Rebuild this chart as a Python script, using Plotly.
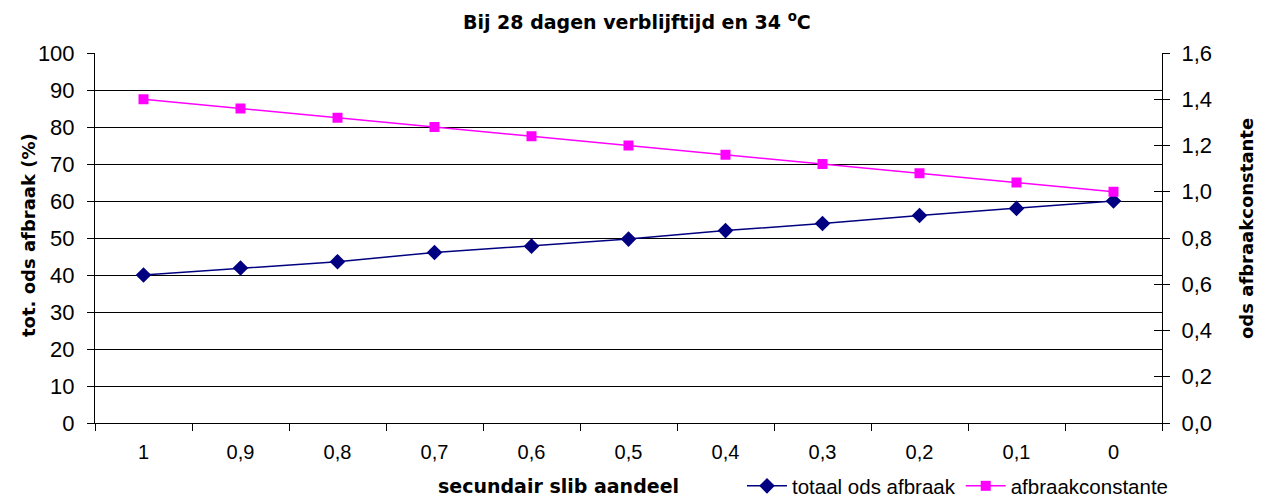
import plotly.graph_objects as go

categories = ["1", "0,9", "0,8", "0,7", "0,6", "0,5", "0,4", "0,3", "0,2", "0,1", "0"]
totaal_ods_afbraak = [40.0, 41.9, 43.6, 46.1, 47.8, 49.7, 52.0, 53.9, 56.1, 58.0, 60.0]
afbraakconstante = [1.40, 1.36, 1.32, 1.28, 1.24, 1.20, 1.16, 1.12, 1.08, 1.04, 1.00]

FONT = "Liberation Sans, Arial, sans-serif"
BOLD = "DejaVu Sans, Liberation Sans, sans-serif"
L, R, T, B = 95, 1162, 53, 423
PW, PH = R - L, B - T


def px_x(px):
    return (px - L) / PW


def px_y(py):
    return (B - py) / PH


fig = go.Figure()
fig.add_trace(go.Scatter(
    x=categories, y=totaal_ods_afbraak, name="totaal ods afbraak",
    mode="lines+markers", yaxis="y",
    line=dict(color="#000080", width=1.5),
    marker=dict(symbol="diamond", size=12, color="#000080"),
))
fig.add_trace(go.Scatter(
    x=categories, y=afbraakconstante, name="afbraakconstante",
    mode="lines+markers", yaxis="y2",
    line=dict(color="#FF00FF", width=1.5),
    marker=dict(symbol="square", size=10, color="#FF00FF"),
))
# invisible trace to activate yaxis3 (inner half of crossing ticks)
fig.add_trace(go.Scatter(x=[categories[0]], y=[0], yaxis="y3", mode="markers",
                         marker=dict(opacity=0), showlegend=False, hoverinfo="skip"))

fig.update_layout(
    width=1265, height=499,
    margin=dict(l=L, r=1265 - R, t=T, b=499 - B, autoexpand=False),
    paper_bgcolor="white", plot_bgcolor="white",
    font=dict(family=FONT, color="black", size=18),
    separators=",.",
    showlegend=True,
    legend=dict(orientation="h", xref="container", x=742 / 1265, xanchor="left",
                yref="container", y=1 - 486 / 499, yanchor="middle",
                font=dict(size=20.5), bgcolor="rgba(0,0,0,0)", itemwidth=40,
                tracegroupgap=0, borderwidth=0),
    xaxis=dict(
        type="category", range=[-0.5, len(categories) - 0.5], autorange=False,
        showline=True, linecolor="black", linewidth=1,
        ticks="outside", ticklen=7, tickcolor="black", tickson="boundaries",
        showgrid=False, tickfont=dict(size=20), ticklabelstandoff=11, automargin=False,
    ),
    yaxis=dict(
        range=[0, 100], dtick=10, showline=True, linecolor="black", linewidth=1,
        ticks="outside", ticklen=7, tickcolor="black",
        showgrid=True, gridcolor="black", gridwidth=1,
        tickfont=dict(size=22), ticklabelstandoff=8, zeroline=False, automargin=False,
    ),
    yaxis2=dict(
        range=[0, 1.6], dtick=0.2, tickformat=".1f", overlaying="y", side="right",
        showline=True, linecolor="black", linewidth=1,
        ticks="outside", ticklen=7, tickcolor="black", showgrid=False,
        tickfont=dict(size=22), ticklabelstandoff=7, zeroline=False, automargin=False,
    ),
    yaxis3=dict(
        range=[0, 1.6], dtick=0.2, overlaying="y", side="right",
        ticks="inside", ticklen=8, tickcolor="black", showgrid=False,
        showticklabels=False, showline=False, zeroline=False, automargin=False,
    ),
    annotations=[
        dict(text="<b>Bij 28 dagen verblijftijd en 34 <sup>o</sup>C</b>", xref="paper", yref="paper",
             x=px_x(637), y=px_y(21), xanchor="center", yanchor="middle",
             showarrow=False, font=dict(size=19, family=BOLD)),
        dict(text="<b>tot. ods afbraak (%)</b>", xref="paper", yref="paper",
             x=px_x(28), y=px_y(235), xanchor="center", yanchor="middle", textangle=-90,
             showarrow=False, font=dict(size=18, family=BOLD)),
        dict(text="<b>ods afbraakconstante</b>", xref="paper", yref="paper",
             x=px_x(1246), y=px_y(229), xanchor="center", yanchor="middle", textangle=-90,
             showarrow=False, font=dict(size=18, family=BOLD)),
        dict(text="<b>secundair slib aandeel</b>", xref="paper", yref="paper",
             x=px_x(558), y=px_y(486), xanchor="center", yanchor="middle",
             showarrow=False, font=dict(size=19, family=BOLD)),
    ],
)

fig.write_html("out.html")
